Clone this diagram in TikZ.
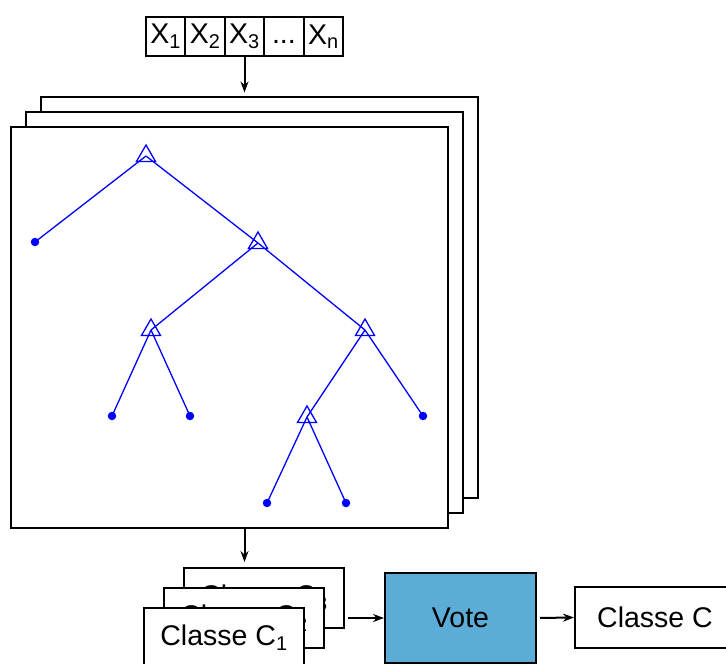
\documentclass[tikz,border=0pt]{standalone}
\usepackage{fontspec}
\setmainfont{Liberation Sans}
\usetikzlibrary{positioning,shapes.geometric,arrows.meta}
\definecolor{voteblue}{RGB}{91,172,214}
\tikzset{
	box/.style={draw, line width=2pt, fill=white, inner sep=0pt, font=\fontsize{28.5}{33}\selectfont},
	inbox/.style={box, minimum width=39.4pt, minimum height=39pt},
	classbox/.style={box, minimum width=160pt, minimum height=60pt},
	treeframe/.style={draw, line width=2pt, fill=white, minimum width=437pt, minimum height=401pt},
	splitnode/.style={draw=blue, line width=1.3pt, regular polygon, regular polygon sides=3, minimum size=22pt, inner sep=0pt},
	leaf/.style={circle, fill=blue, inner sep=0pt, minimum size=8.5pt},
	branch/.style={blue, line width=1.3pt},
	flow/.style={line width=2pt, -{Stealth[length=11pt,width=8pt]}}
}
\begin{document}
\begin{tikzpicture}[x=1pt, y=-1pt, on grid]
		\useasboundingbox (0,0) rectangle (726,664);
		\clip (0,0) rectangle (726,664);
		
		% Define input row
		\node[inbox] (x1) at (165.7,36.5) {X\textsubscript{1}};
		\node[inbox, right=39.4pt of x1] (x2) {X\textsubscript{2}};
		\node[inbox, right=39.4pt of x2] (x3) {X\textsubscript{3}};
		\node[inbox, right=39.4pt of x3] (xd) {\vphantom{X\textsubscript{1}}...};
		\node[inbox, right=39.4pt of xd] (xn) {X\textsubscript{n}};
		
		% Stacked trees
		\node[treeframe] (back) at (259,297) {};
		\node[treeframe, below left=15pt and 15pt of back] (mid) {};
		\node[treeframe, below left=15pt and 15pt of mid] (front) {};
		
		% Define tree vertices
		\node[splitnode] (root) at (146,156) {};
		\node[leaf, below left=86pt and 111pt of root] (l1) {};
		\node[splitnode, below right=87pt and 112pt of root] (n1) {};
		\node[splitnode, below left=87pt and 107pt of n1] (n2) {};
		\node[splitnode, below right=87pt and 107pt of n1] (n3) {};
		\node[leaf, below left=86pt and 39pt of n2] (l2) {};
		\node[leaf, below right=86pt and 39pt of n2] (l3) {};
		\node[splitnode, below left=87pt and 58pt of n3] (n4) {};
		\node[leaf, below right=86pt and 58pt of n3] (l4) {};
		\node[leaf, below left=86pt and 40pt of n4] (l5) {};
		\node[leaf, below right=86pt and 39pt of n4] (l6) {};
		
		% Draw branches
		\foreach \a/\b in {root/l1, root/n1, n1/n2, n1/n3, n2/l2, n2/l3, n3/n4, n3/l4, n4/l5, n4/l6}
			\draw[branch] (\a.center) -- (\b.center);
		
		% Class outputs
		\node[classbox] (c3) at (264,598) {Classe C\textsubscript{3}};
		\node[classbox, below left=20pt and 20pt of c3] (c2) {Classe C\textsubscript{2}};
		\node[classbox, below left=20pt and 20pt of c2] (c1) {Classe C\textsubscript{1}};
		\node[box, fill=voteblue, minimum width=151pt, minimum height=90pt] (vote) at (460.5,618) {Vote};
		\node[classbox, minimum height=61pt] (out) at (655,617.5) {Classe C};
		
		% Draw arrows
		\draw[flow, shorten >=3pt] (x3.south) -- (x3.south |- back.north);
		\draw[flow, shorten >=5pt] (front.south -| x3) -- (x3 |- c3.north);
		\draw[flow, shorten <=3pt] (c3.east |- vote.west) -- (vote.west);
		\draw[flow, shorten <=3pt] (vote.east) -- (out.west);
\end{tikzpicture}
\end{document}
